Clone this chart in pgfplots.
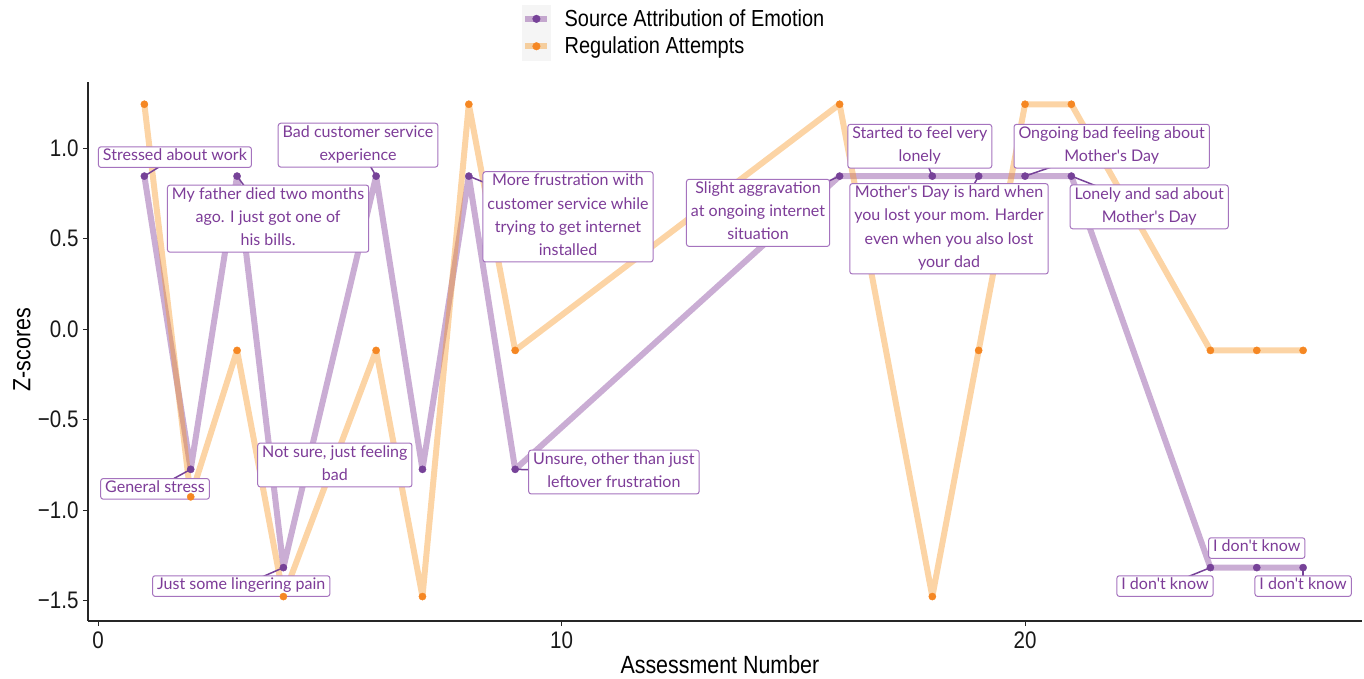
\documentclass[border=0pt]{standalone}
\usepackage{fontspec}
\setmainfont[FakeStretch=0.86]{Liberation Sans}
\newfontfamily\labelfont{Lato}
\usepackage{pgfplots}
\pgfplotsset{compat=1.18}
\definecolor{pbase}{RGB}{123,50,148}
\definecolor{obase}{RGB}{247,148,29}
\definecolor{pdot}{RGB}{118,66,152}
\definecolor{odot}{RGB}{245,135,35}
\definecolor{ltext}{RGB}{125,60,152}
\definecolor{lborder}{RGB}{165,115,190}
\newcommand\ls{\rule[-4.2bp]{0pt}{15.8bp}}
\tikzset{
  lab/.style={draw=lborder, line width=1bp, rounded corners=2.5bp, fill=white, text=ltext,
    align=center, font={\labelfont\fontsize{16.1}{23.3}\selectfont},
    inner xsep=4.5bp, inner ysep=2.3bp,
    execute at begin node={\ls}, execute at end node={\ls}},
  con/.style={draw=pdot, line width=1.5bp}
}
\begin{document}
\begin{tikzpicture}
\begin{axis}[
  scale only axis, width=1274bp, height=539bp,
  xmin=-0.216, xmax=27.27, ymin=-1.613, ymax=1.365,
  clip=false,
  axis x line*=bottom, axis y line*=left,
  axis line style={line width=1.2bp, black!85, -},
  xtick={0,10,20}, xticklabels={0,10,20},
  ytick={-1.5,-1,-0.5,0,0.5,1}, yticklabels={−1.5,−1.0,−0.5,0.0,0.5,1.0},
  tick align=outside, major tick length=5bp,
  tick style={black!85, line width=1bp},
  ticklabel style={font=\fontsize{24}{24}\selectfont, text=black!90},
  xticklabel style={yshift=-2bp},
  yticklabel style={xshift=-1bp},
  xlabel={Assessment Number}, ylabel={Z-scores},
  every axis x label/.style={at={(axis description cs:0.496,-0.0816)}, anchor=center,
     font=\fontsize{25}{25}\selectfont},
  every axis y label/.style={at={(axis description cs:-0.0518,0.503)}, rotate=90, anchor=center,
     font=\fontsize{25}{25}\selectfont},
  legend style={at={(axis description cs:0.3407,1.1429)}, anchor=north west, draw=none, fill=none,
    font=\fontsize{23.3}{23.3}\selectfont, inner sep=0pt, row sep=0pt,
    /tikz/every odd column/.append style={column sep=12bp}},
  legend cell align=left,
]
\coordinate (O) at (rel axis cs:0,0);
% lines
\addplot[pbase, opacity=0.4, line width=6bp, line join=round, forget plot] coordinates {
(1,0.845) (2,-0.775) (3,0.845) (4,-1.318) (6,0.845) (7,-0.775) (8,0.845) (9,-0.775)
(16,0.845) (18,0.845) (19,0.845) (20,0.845) (21,0.845) (24,-1.318) (25,-1.318) (26,-1.318)};
\addplot[obase, opacity=0.4, line width=6bp, line join=round, forget plot] coordinates {
(1,1.242) (2,-0.927) (3,-0.118) (4,-1.478) (6,-0.118) (7,-1.478) (8,1.242) (9,-0.118)
(16,1.242) (18,-1.478) (19,-0.118) (20,1.242) (21,1.242) (24,-0.118) (25,-0.118) (26,-0.118)};
% points
\addplot[only marks, mark=*, mark size=3.6bp, mark options={pdot, draw=none}, forget plot] coordinates {
(1,0.845) (2,-0.775) (3,0.845) (4,-1.318) (6,0.845) (7,-0.775) (8,0.845) (9,-0.775)
(16,0.845) (18,0.845) (19,0.845) (20,0.845) (21,0.845) (24,-1.318) (25,-1.318) (26,-1.318)};
\addplot[only marks, mark=*, mark size=3.6bp, mark options={odot, draw=none}, forget plot] coordinates {
(1,1.242) (2,-0.927) (3,-0.118) (4,-1.478) (6,-0.118) (7,-1.478) (8,1.242) (9,-0.118)
(16,1.242) (18,-1.478) (19,-0.118) (20,1.242) (21,1.242) (24,-0.118) (25,-0.118) (26,-0.118)};
% legend
\addlegendimage{legend image code/.code={
  \fill[black!4] (0bp,-13.5bp) rectangle (28bp,13.5bp);
  \draw[pbase, opacity=0.4, line width=6bp] (3bp,0) -- (25bp,0);
  \fill[pdot] (14bp,0) circle (3.8bp);}}
\addlegendentry{Source Attribution of Emotion}
\addlegendimage{legend image code/.code={
  \fill[black!4] (0bp,-13.5bp) rectangle (28bp,13.5bp);
  \draw[obase, opacity=0.4, line width=6bp] (3bp,0) -- (25bp,0);
  \fill[odot] (14bp,0) circle (3.8bp);}}
\addlegendentry{Regulation Attempts}
% connectors
\draw[con] (axis cs:1,0.845) -- (axis cs:1.66,0.95);
\draw[con] (axis cs:3,0.845) -- (axis cs:3.67,0.61);
\draw[con] (axis cs:6,0.845) -- (axis cs:5.61,1.016);
\draw[con] (axis cs:2,-0.775) -- (axis cs:1.23,-0.883);
\draw[con] (axis cs:4,-1.318) -- (axis cs:3.09,-1.42);
\draw[con] (axis cs:8,0.845) -- (axis cs:10.14,0.62);
\draw[con] (axis cs:9,-0.775) -- (axis cs:11.13,-0.79);
\draw[con] (axis cs:16,0.845) -- (axis cs:14.24,0.642);
\draw[con] (axis cs:18,0.845) -- (axis cs:17.73,1.01);
\draw[con] (axis cs:19,0.845) -- (axis cs:18.36,0.554);
\draw[con] (axis cs:20,0.845) -- (axis cs:21.87,1.01);
\draw[con] (axis cs:21,0.845) -- (axis cs:22.68,0.675);
\draw[con] (axis cs:24,-1.318) -- (axis cs:23.02,-1.42);
\draw[con] (axis cs:26,-1.318) -- (axis cs:26.0,-1.42);
% labels
\node[lab] at (axis cs:1.66,0.95) {Stressed about work};
\node[lab] at (axis cs:3.67,0.61) {My father died two months\\ago. I just got one of\\his bills.};
\node[lab] at (axis cs:5.61,1.016) {Bad customer service\\experience};
\node[lab] at (axis cs:1.23,-0.883) {General stress};
\node[lab] at (axis cs:5.11,-0.751) {Not sure, just feeling\\bad};
\node[lab] at (axis cs:3.09,-1.42) {Just some lingering pain};
\node[lab] at (axis cs:10.14,0.62) {More frustration with\\customer service while\\trying to get internet\\installed};
\node[lab] at (axis cs:11.13,-0.79) {Unsure, other than just\\leftover frustration};
\node[lab] at (axis cs:14.24,0.642) {Slight aggravation\\at ongoing internet\\situation};
\node[lab] at (axis cs:17.73,1.01) {Started to feel very\\lonely};
\node[lab] at (axis cs:18.36,0.554) {Mother's Day is hard when\\you lost your mom. Harder\\even when you also lost\\your dad};
\node[lab] at (axis cs:21.87,1.01) {Ongoing bad feeling about\\Mother's Day};
\node[lab] at (axis cs:22.68,0.675) {Lonely and sad about\\Mother's Day};
\node[lab] at (axis cs:23.02,-1.42) {I don't know};
\node[lab] at (axis cs:25.0,-1.21) {I don't know};
\node[lab] at (axis cs:26.0,-1.42) {I don't know};
\end{axis}
\pgfresetboundingbox
\path ([xshift=-88bp,yshift=-58bp]O) rectangle ++(1364bp,679bp);
\end{tikzpicture}
\end{document}
